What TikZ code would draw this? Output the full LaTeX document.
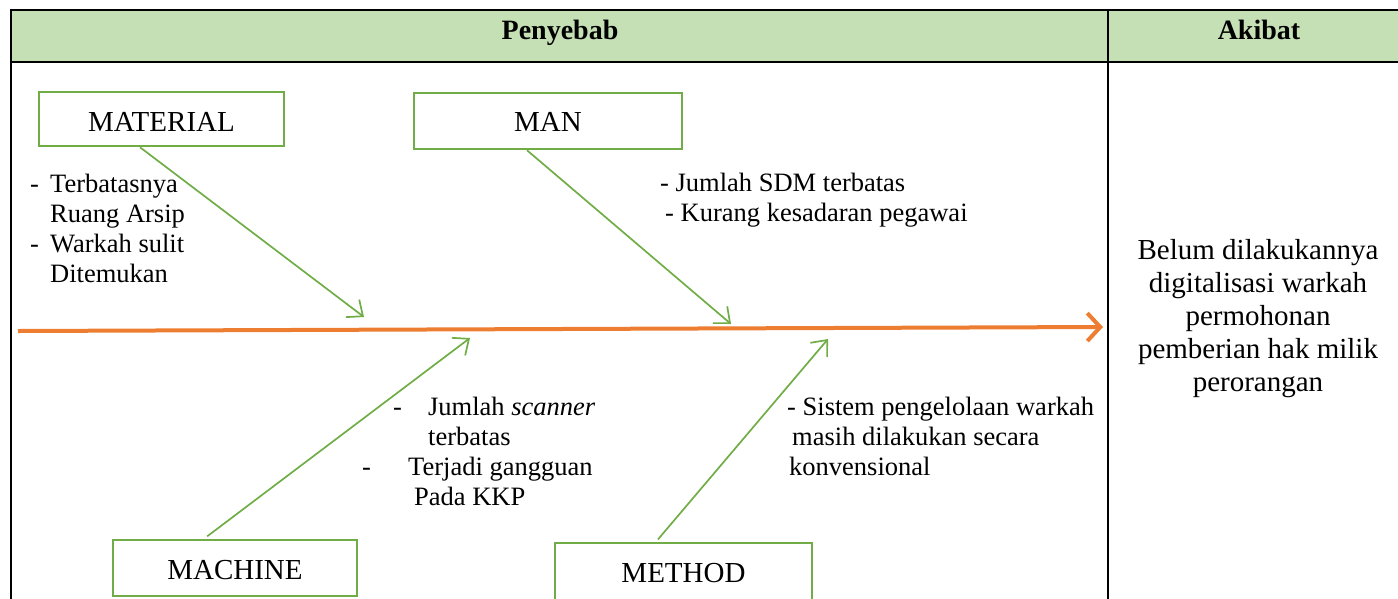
\documentclass[tikz,border=0pt]{standalone}
\usepackage{fontspec}
\setmainfont{Liberation Serif}
\usetikzlibrary{arrows.meta}
\definecolor{hdr}{HTML}{C5E0B4}
\definecolor{grn}{HTML}{70AD47}
\definecolor{org}{HTML}{ED7D31}
\begin{document}
\begin{tikzpicture}[x=1pt,y=-1pt,
  catbox/.style={draw=grn,line width=2.5pt,inner sep=0pt,text depth=0pt,font=\fontsize{29}{33}\selectfont},
  cause/.style={inner sep=0pt,anchor=base west,align=left,font=\fontsize{26.5}{29.7}\selectfont},
  hdrtext/.style={inner sep=0pt,anchor=base,font=\bfseries\fontsize{28}{32}\selectfont},
  garrow/.style={draw=grn,line width=1.7pt,-{Straight Barb[length=13pt,width=22pt]}},
  oarrow/.style={draw=org,line width=4pt,-{Straight Barb[length=13pt,width=28pt]}},
  frame/.style={draw=black,line width=2pt}]
\useasboundingbox (0,0) rectangle (1398,598);
% table
\fill[hdr] (11,10) rectangle (1402,62);
\draw[frame] (11,10) -- (1402,10);
\draw[frame] (11,62) -- (1402,62);
\draw[frame] (11,9) -- (11,602);
\draw[frame] (1108,10) -- (1108,602);
\node[hdrtext] (pen) at (560,39.5) {Penyebab};
\node[hdrtext] (aki) at (1259,39.5) {Akibat};
% spine
\coordinate (spS) at (18,331);
\coordinate (spE) at (1103,327);
\draw[oarrow] (spS) -- (spE);
% category boxes
\node[catbox,minimum width=245pt,minimum height=54pt,text height=25pt] (mat) at (161.5,119) {MATERIAL};
\node[catbox,minimum width=268pt,minimum height=56pt,text height=21pt] (man) at (548,121) {MAN};
\node[catbox,minimum width=244pt,minimum height=56pt,text height=23pt] (mac) at (235,568) {MACHINE};
\node[catbox,minimum width=257pt,minimum height=60pt,text height=19pt] (met) at (683.5,573) {METHOD};
% arrow tips on spine
\coordinate (matTip) at (364,317);
\coordinate (manTip) at (731,324);
\coordinate (macTip) at (470,338);
\coordinate (metTip) at (828,339);
\draw[garrow] ([xshift=-21.5pt]mat.south) -- (matTip);
\draw[garrow] ([xshift=-21pt]man.south) -- (manTip);
\draw[garrow,shorten <=4pt] ([xshift=-31pt]mac.north) -- (macTip);
\draw[garrow,shorten <=3pt] ([xshift=-27.5pt]met.north) -- (metTip);
% cause texts (anchored at the baseline of the last line)
\node[cause] (matTxt) at (30,282) {\makebox[20pt][l]{-}Terbatasnya\\\hspace*{20pt}Ruang Arsip\\\makebox[20pt][l]{-}Warkah sulit\\\hspace*{20pt}Ditemukan};
\node[cause] (manTxt) at (660,221) {- Jumlah SDM terbatas\\\hspace*{5pt}- Kurang kesadaran pegawai};
\node[cause] (macTxt) at (362,505) {\hspace*{31pt}\makebox[35pt][l]{-}Jumlah \textit{scanner}\\\hspace*{66pt}terbatas\\\makebox[46pt][l]{-}Terjadi gangguan\\\hspace*{52pt}Pada KKP};
\node[cause] (metTxt) at (787,475) {- Sistem pengelolaan warkah\\\hspace*{5pt}masih dilakukan secara\\\hspace*{2pt}konvensional};
% effect
\node[inner sep=0pt,align=center,font=\fontsize{29}{33}\selectfont] (eff) at (1258,319) {Belum dilakukannya\\digitalisasi warkah\\permohonan\\pemberian hak milik\\perorangan};
\end{tikzpicture}
\end{document}
